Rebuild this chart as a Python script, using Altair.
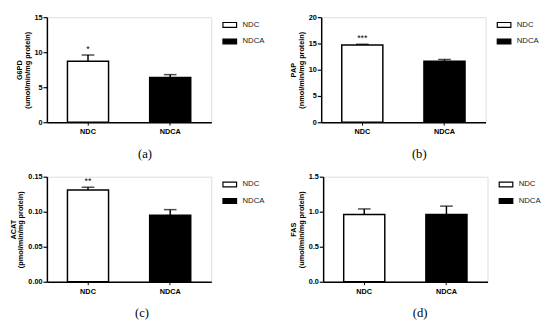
import altair as alt
import pandas as pd

groups = ["NDC", "NDCA"]

g6pd_mean = [8.7, 6.4]
g6pd_err = [0.9, 0.4]
g6pd_sig = ["*", ""]

pap_mean = [14.7, 11.6]
pap_err = [0.15, 0.35]
pap_sig = ["***", ""]

acat_mean = [0.131, 0.095]
acat_err = [0.004, 0.008]
acat_sig = ["**", ""]

fas_mean = [0.96, 0.96]
fas_err = [0.08, 0.12]
fas_sig = ["", ""]

SANS = "Liberation Sans"
SERIF = "Liberation Serif"


def panel(mean, err, sig, title_lines, ymax, tick_vals, fmt, label):
    df = pd.DataFrame({
        "group": groups,
        "mean": mean,
        "top": [m + e for m, e in zip(mean, err)],
        "sig": sig,
    })
    x_axis = alt.Axis(title=None, labelAngle=0, labelFont=SANS, labelFontWeight="bold",
                      labelFontSize=7.5, labelColor="black", domainColor="black",
                      domainWidth=1.5, tickColor="black", tickSize=3, tickWidth=1,
                      labelPadding=3)
    xs = alt.Scale(paddingInner=0.5, paddingOuter=0.25)
    x = alt.X("group:N", sort=groups, scale=xs, axis=x_axis)
    y_axis = alt.Axis(title=title_lines, values=tick_vals, format=fmt, grid=False,
                      titleFont=SANS, titleFontWeight="bold", titleFontSize=7.5,
                      titleLineHeight=8, titleColor="black", titlePadding=3,
                      labelFont=SANS, labelFontWeight="bold", labelFontSize=7.5,
                      labelColor="black", domainColor="black", domainWidth=1.5,
                      tickColor="black", tickSize=4, tickWidth=1.2, labelPadding=1)
    ys = alt.Scale(domain=[0, ymax], nice=False)
    base = alt.Chart(df)
    bars = base.mark_bar(stroke="black", strokeWidth=1.5).encode(
        x=x,
        y=alt.Y("mean:Q", scale=ys, axis=y_axis),
        fill=alt.Fill("group:N", sort=groups,
                      scale=alt.Scale(domain=groups, range=["white", "black"]),
                      legend=alt.Legend(title=None, orient="right", offset=11, padding=0,
                                        symbolType="M-1,-0.36H1V0.36H-1Z", symbolSize=196,
                                        symbolStrokeColor="black", symbolStrokeWidth=1.2,
                                        labelFont=SANS, labelFontSize=8, labelColor="#222",
                                        rowPadding=4, labelOffset=5)),
    )
    rule = base.mark_rule(color="black", strokeWidth=1.5).encode(
        x=x, y=alt.Y("mean:Q", scale=ys, axis=y_axis), y2="top:Q")
    cap = base.mark_tick(color="black", thickness=1.5, size=13, orient="horizontal").encode(
        x=x, y=alt.Y("top:Q", scale=ys, axis=y_axis))
    stars = base.mark_text(baseline="bottom", dy=-1, font=SANS, fontSize=9,
                           color="black").encode(
        x=x, y=alt.Y("top:Q", scale=ys, axis=y_axis), text="sig:N")
    return alt.layer(bars, rule, cap, stars).properties(
        width=169, height=108,
        title=alt.TitleParams(label, orient="bottom", font=SERIF, fontSize=13,
                              fontWeight="normal", color="black", offset=13,
                              anchor="middle", frame="bounds", dx=5),
    )


pa = panel(g6pd_mean, g6pd_err, g6pd_sig, ["G6PD", "(umol/min/mg protein)"], 15,
           [0, 5, 10, 15], "d", "(a)")
pb = panel(pap_mean, pap_err, pap_sig, ["PAP", "(nmol/min/mg protein)"], 20,
           [0, 5, 10, 15, 20], "d", "(b)")
pc = panel(acat_mean, acat_err, acat_sig, ["ACAT", "(pmol/min/mg protein)"], 0.15,
           [0, 0.05, 0.10, 0.15], ".2f", "(c)")
pd_ = panel(fas_mean, fas_err, fas_sig, ["FAS", "(umol/min/mg protein)"], 1.5,
            [0, 0.5, 1.0, 1.5], ".1f", "(d)")

row1 = alt.hconcat(pa, pb, spacing=24).resolve_scale(fill="independent").resolve_legend(fill="independent")
row2 = alt.hconcat(pc, pd_, spacing=24).resolve_scale(fill="independent").resolve_legend(fill="independent")

chart = alt.vconcat(row1, row2, spacing=11).resolve_scale(fill="independent").resolve_legend(
    fill="independent").properties(padding=0).configure_view(stroke=None).configure(
    background="white")

chart.save("out.html", embed_options={"renderer": "svg", "actions": False})
